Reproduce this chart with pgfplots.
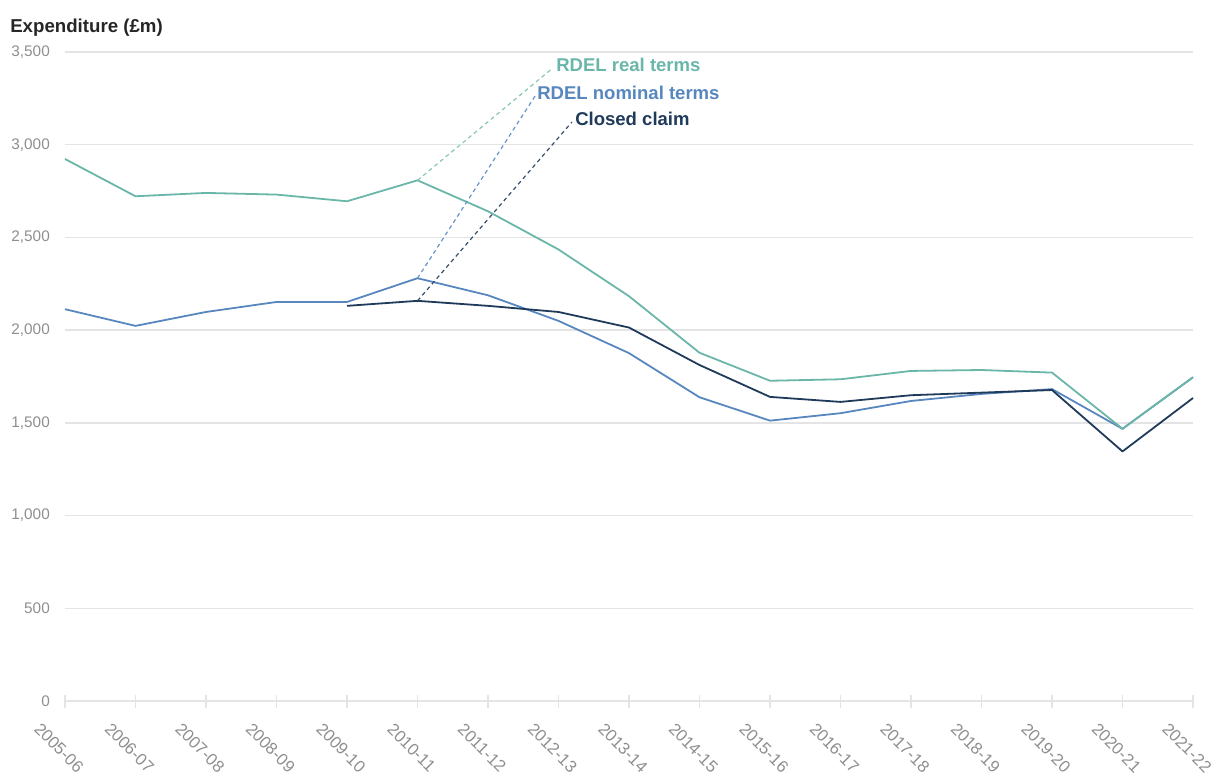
\documentclass[border=0pt]{standalone}
\usepackage{fontspec}
\setmainfont{Liberation Sans}
\usepackage{pgfplots}
\pgfplotsset{compat=1.18}
\usetikzlibrary{calc}
\definecolor{realc}{HTML}{6AB6A9}
\definecolor{nomc}{HTML}{5787BE}
\definecolor{clc}{HTML}{203A5A}
\definecolor{gridc}{HTML}{E4E4E4}
\definecolor{tickc}{HTML}{8E8E8E}
\begin{document}
\begin{tikzpicture}
\begin{axis}[
  scale only axis, width=846pt, height=486.75pt,
  xmin=0, xmax=16, ymin=0, ymax=3500,
  clip=false,
  axis line style={draw=none},
  xtick={0,...,16},
  xticklabels={2005-06,2006-07,2007-08,2008-09,2009-10,2010-11,2011-12,2012-13,2013-14,2014-15,2015-16,2016-17,2017-18,2018-19,2019-20,2020-21,2021-22},
  ytick={0,500,...,3500},
  ymajorgrids, grid style={gridc, line width=1pt},
  xtick pos=left, tick align=center, major tick length=9.75pt,
  xtick style={gridc, line width=0.9pt},
  ytick style={draw=none},
  /pgf/number format/assume math mode=true,
  /pgf/number format/1000 sep={,},
  x tick label style={font=\fontsize{12.5}{14}\selectfont, text=tickc, xshift=-4.5pt, yshift=-30.3pt, rotate=-45, anchor=center},
  y tick label style={font=\fontsize{11.5}{13}\selectfont, text=tickc, anchor=east, xshift=-3pt},
]
\addplot[nomc, line width=1.35pt, line join=round] coordinates {
 (0,2113) (1,2023) (2,2098) (3,2152) (4,2152) (5,2280) (6,2188) (7,2050) (8,1876)
 (9,1638) (10,1512) (11,1552) (12,1618) (13,1656) (14,1682) (15,1468) (16,1746)};
\addplot[realc, line width=1.35pt, line join=round] coordinates {
 (0,2923) (1,2722) (2,2740) (3,2731) (4,2695) (5,2808) (6,2641) (7,2435) (8,2183)
 (9,1878) (10,1727) (11,1735) (12,1780) (13,1785) (14,1771) (15,1468) (16,1746)};
\addplot[clc, line width=1.35pt, line join=round] coordinates {
 (4,2131) (5,2158) (6,2131) (7,2098) (8,2014) (9,1812) (10,1640) (11,1613)
 (12,1649) (13,1663) (14,1677) (15,1346) (16,1634)};
% label connectors
\draw[realc!80, line width=0.9pt, dash pattern=on 3pt off 2.5pt] (axis cs:5,2808) -- (axis cs:6.92,3414);
\draw[nomc!90, line width=0.9pt, dash pattern=on 3pt off 2.5pt] (axis cs:5,2280) -- (axis cs:6.667,3262);
\draw[clc!90, line width=0.9pt, dash pattern=on 3pt off 2.5pt] (axis cs:5,2158) -- (axis cs:7.19,3122);
\node[anchor=west, inner sep=0, text=realc, font=\bfseries\fontsize{13.9}{16}\selectfont] at (axis cs:6.965,3430) {RDEL real terms};
\node[anchor=west, inner sep=0, text=nomc, font=\bfseries\fontsize{13.9}{16}\selectfont] at (axis cs:6.695,3277) {RDEL nominal terms};
\node[anchor=west, inner sep=0, text=clc, font=\bfseries\fontsize{13.9}{16}\selectfont] at (axis cs:7.234,3137) {Closed claim};
\node[anchor=west, inner sep=0, text=black!85, font=\bfseries\fontsize{14}{16}\selectfont] at (axis cs:-0.78,3630) {Expenditure (£m)};
\end{axis}
\pgfresetboundingbox
\path ($(current axis.south west)+(-48.75pt,-54.75pt)$) rectangle ($(current axis.north east)+(16.5pt,39pt)$);
\end{tikzpicture}
\end{document}
